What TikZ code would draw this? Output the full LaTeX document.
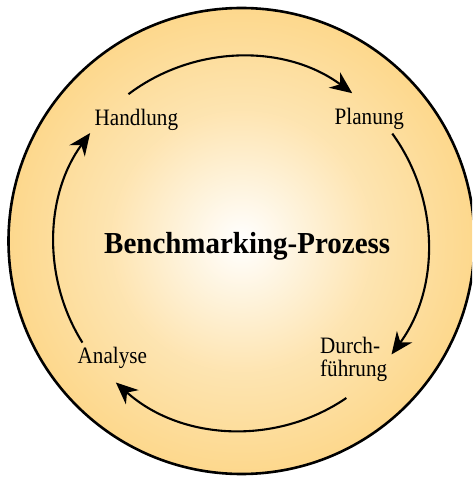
\documentclass[tikz,border=0pt]{standalone}
\usepackage{fontspec}
\setmainfont{Liberation Serif}[FakeStretch=0.9]
\newfontfamily\titlefont{Liberation Serif}[FakeStretch=0.95]
\usetikzlibrary{arrows.meta,calc}
\definecolor{ringorange}{RGB}{252,202,100}
\pgfdeclareradialshading{glow}{\pgfpoint{0bp}{0bp}}{%
  color(0bp)=(white);
  color(5bp)=(white!82!ringorange);
  color(14bp)=(white!50!ringorange);
  color(26bp)=(white!24!ringorange);
  color(38bp)=(white!6!ringorange);
  color(50bp)=(ringorange)}
\begin{document}
\begin{tikzpicture}[x=1pt,y=1pt,
  cyclearrow/.style={line width=2.1pt,-{Stealth[length=22pt,width=19pt,inset=7pt]}},
  steplabel/.style={inner sep=0pt,font=\fontsize{23.5}{23}\selectfont},
  titlelabel/.style={inner sep=0pt,font=\titlefont\fontsize{30.5}{32}\selectfont\bfseries}]
\clip (0,0) rectangle (472,477);
% outer disc
\path[shading=glow] (241.5,236) circle[radius=233];
\draw[line width=2.6pt] (241.5,236) circle[radius=233];
% centre of the cycle
\coordinate (c) at (241,233.5);
% labels
\node[titlelabel,anchor=base west] (title) at (104,223) {Benchmarking-Prozess};
\node[steplabel,anchor=base west] (hand) at (94.5,351.5) {Handlung};
\node[steplabel,anchor=base west] (plan) at (334.5,352) {Planung};
\node[steplabel,anchor=north west,align=left] (durch) at (320,140) {Durch-\\führung};
\node[steplabel,anchor=base west] (ana) at (77.5,113.7) {Analyse};
% arc end points
\coordinate (a1) at ($(c)+(127:187)$);
\coordinate (a2) at ($(c)+(36:187)$);
\coordinate (a3) at ($(c)+(-55.7:187)$);
\coordinate (a4) at ($(c)+(212:187)$);
% cycle arrows
\draw[cyclearrow] (a1) arc[start angle=127,end angle=53.5,radius=187];
\draw[cyclearrow] (a2) arc[start angle=36,end angle=-36.4,radius=187];
\draw[cyclearrow] (a3) arc[start angle=-55.7,end angle=-132,radius=187];
\draw[cyclearrow] (a4) arc[start angle=212,end angle=143.8,radius=187];
\end{tikzpicture}
\end{document}
